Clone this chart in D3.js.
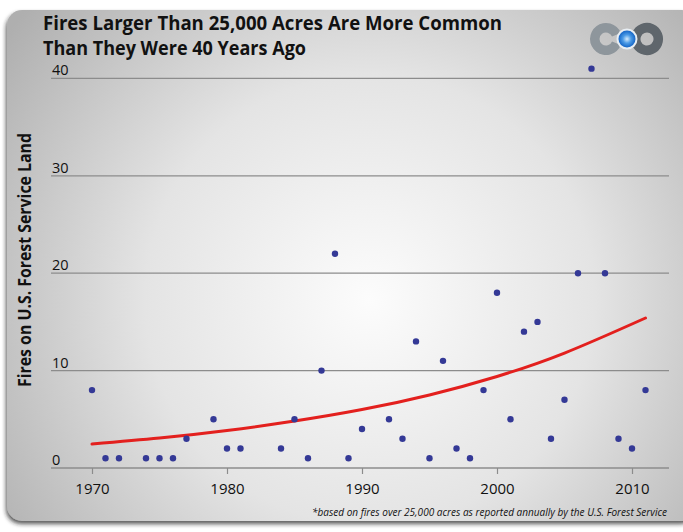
<!DOCTYPE html>
<html><head><meta charset="utf-8">
<script src="https://cdn.jsdelivr.net/npm/d3@7"></script>
<style>html,body{margin:0;padding:0;background:#fff;}svg{display:block;}</style>
</head><body>
<svg id="chart" width="683" height="532"></svg>
<script>
// ---- data ----
const years = [1970,1971,1972,1974,1975,1976,1977,1979,1980,1981,1984,1985,1986,1987,1988,1989,1990,1992,1993,1994,1995,1996,1997,1998,1999,2000,2001,2002,2003,2004,2005,2006,2007,2008,2009,2010,2011];
const fires = [8,1,1,1,1,1,3,5,2,2,2,5,1,10,22,1,4,5,3,13,1,11,2,1,8,18,5,14,15,3,7,20,41,20,3,2,8];
const trendYears = [1970,1975,1980,1985,1990,1995,2000,2005,2011];
const trendValues = [2.46,3.07,3.85,4.82,6.0,7.5,9.4,11.8,15.4];
const xTicks = [1970,1980,1990,2000,2010];
const yTicks = [0,10,20,30,40];
const titleLines = ["Fires Larger Than 25,000 Acres Are More Common","Than They Were 40 Years Ago"];
const yLabel = "Fires on U.S. Forest Service Land";
const footnote = "*based on fires over 25,000 acres as reported annually by the U.S. Forest Service";

const svg = d3.select("#chart");
const defs = svg.append("defs");
const bg = defs.append("radialGradient").attr("id","bg").attr("gradientUnits","userSpaceOnUse")
  .attr("cx",370).attr("cy",300).attr("r",450);
bg.append("stop").attr("offset",0).attr("stop-color","#fcfcfc");
bg.append("stop").attr("offset",0.5).attr("stop-color","#e4e4e4");
bg.append("stop").attr("offset",1).attr("stop-color","#afafaf");
const sh = defs.append("filter").attr("id","sh").attr("x","-10%").attr("y","-10%").attr("width","120%").attr("height","120%");
sh.append("feDropShadow").attr("dx",-1).attr("dy",3).attr("stdDeviation",2).attr("flood-color","#222").attr("flood-opacity",0.75);
const blue = defs.append("radialGradient").attr("id","blue").attr("cx","0.5").attr("cy","0.5").attr("r","0.5");
blue.append("stop").attr("offset",0).attr("stop-color","#d6ebfc");
blue.append("stop").attr("offset",0.5).attr("stop-color","#4a9ae6");
blue.append("stop").attr("offset",1).attr("stop-color","#1565c6");
const blur = defs.append("filter").attr("id","blur");
blur.append("feGaussianBlur").attr("stdDeviation",0.7);

svg.append("rect").attr("x",7).attr("y",10).attr("width",690).attr("height",511).attr("rx",15)
  .attr("fill","url(#bg)").attr("filter","url(#sh)");

// ---- scales ----
const x = d3.scaleLinear().domain([1970,2010]).range([92,632]);
const y = d3.scaleLinear().domain([0,40]).range([468,78.4]);

// grid
const gx0 = 51, gx1 = 669;
const grid = svg.append("g");
grid.selectAll("line").data(yTicks).join("line")
  .attr("x1",gx0).attr("x2",gx1).attr("y1",d=>y(d)).attr("y2",d=>y(d))
  .attr("stroke","#8c8c8c").attr("stroke-width",1.3);
grid.selectAll("text").data(yTicks).join("text")
  .attr("x",52).attr("y",d=>y(d)-3).text(d=>d)
  .attr("font-family","Open Sans, sans-serif").attr("font-size",14.5).attr("fill","#111");

// x axis
const xa = svg.append("g").attr("transform",`translate(0,${y(0)})`)
  .call(d3.axisBottom(x).tickValues(xTicks).tickFormat(d3.format("d")).tickSize(6).tickPadding(9));
xa.select(".domain").remove();
xa.selectAll(".tick line").attr("stroke","#8c8c8c").attr("stroke-width",1.2);
xa.selectAll(".tick text").attr("font-family","Open Sans, sans-serif").attr("font-size",15).attr("fill","#111");

// trend
const line = d3.line().x((d,i)=>x(trendYears[i])).y(d=>y(d)).curve(d3.curveNatural);
svg.append("path").attr("d",line(trendValues)).attr("fill","none")
  .attr("stroke","#e3201e").attr("stroke-width",3).attr("stroke-linecap","round");

// points
svg.append("g").selectAll("circle").data(fires).join("circle")
  .attr("cx",(d,i)=>x(years[i])).attr("cy",d=>y(d)).attr("r",3.2).attr("fill","#343996");

// title
svg.append("g").selectAll("text").data(titleLines).join("text")
  .attr("x",43).attr("y",(d,i)=>30+i*25).text(d=>d)
  .attr("font-family","Open Sans, sans-serif").attr("font-weight","bold").attr("font-size",19)
  .attr("textLength",(d,i)=>i===0?459:263).attr("lengthAdjust","spacingAndGlyphs").attr("fill","#111");

// y label
svg.append("text").attr("transform","translate(31,260) rotate(-90)").attr("text-anchor","middle")
  .text(yLabel).attr("font-family","Open Sans, sans-serif").attr("font-weight","bold").attr("font-size",17)
  .attr("textLength",254).attr("lengthAdjust","spacingAndGlyphs").attr("fill","#111");

// footnote
svg.append("text").attr("x",667).attr("y",516).attr("text-anchor","end").text(footnote)
  .attr("font-family","Open Sans, sans-serif").attr("font-style","italic").attr("font-size",11)
  .attr("textLength",355).attr("lengthAdjust","spacingAndGlyphs").attr("fill","#111");

// logo
const logo = svg.append("g").attr("filter","url(#blur)");
const arc = d3.arc().innerRadius(6.5).outerRadius(16);
logo.append("path").attr("transform","translate(606,39)")
  .attr("d",arc({startAngle:Math.PI*0.62,endAngle:Math.PI*2.38})).attr("fill","#8e969c");
logo.append("path").attr("transform","translate(647,39)")
  .attr("d",arc({startAngle:-Math.PI*0.62,endAngle:Math.PI*1.38})).attr("fill","#5f666c");
logo.append("circle").attr("cx",627).attr("cy",39).attr("r",10.5).attr("fill","#e8eef3");
logo.append("circle").attr("cx",627).attr("cy",39).attr("r",8.5).attr("fill","url(#blue)");
</script>
</body></html>
